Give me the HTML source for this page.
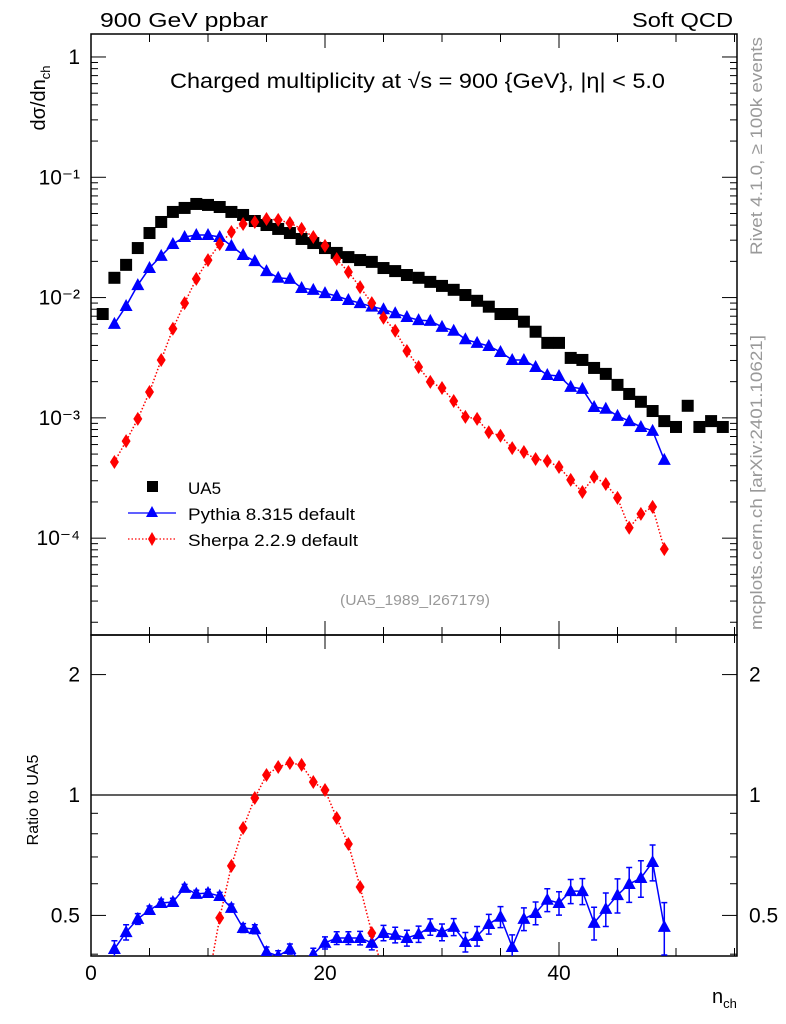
<!DOCTYPE html>
<html><head><meta charset="utf-8"><style>
body{margin:0;background:#fff;}
svg{display:block;font-family:"Liberation Sans",Arial,sans-serif;}
</style></head><body>
<svg id="chart" width="786" height="1024" viewBox="0 0 786 1024" xmlns="http://www.w3.org/2000/svg">
<defs>
<clipPath id="clipMain"><rect x="91" y="34" width="646" height="601"/></clipPath>
<clipPath id="clipRatio"><rect x="91" y="635" width="646" height="321"/></clipPath>
</defs>
<text x="100" y="27" font-size="20" textLength="168" lengthAdjust="spacingAndGlyphs">900 GeV ppbar</text>
<text x="632" y="27" font-size="20" textLength="101" lengthAdjust="spacingAndGlyphs">Soft QCD</text>
<text x="170" y="88" font-size="21" textLength="495" lengthAdjust="spacingAndGlyphs">Charged multiplicity at √s = 900 {GeV}, |η| &lt; 5.0</text>
<text transform="translate(762,255) rotate(-90)" font-size="17" fill="#999" textLength="218" lengthAdjust="spacingAndGlyphs">Rivet 4.1.0, ≥ 100k events</text>
<text transform="translate(762,630) rotate(-90)" font-size="17" fill="#999" textLength="295" lengthAdjust="spacingAndGlyphs">mcplots.cern.ch [arXiv:2401.10621]</text>
<text transform="translate(45,98) rotate(-90)" font-size="20" text-anchor="middle">dσ/dn<tspan font-size="13" dy="5">ch</tspan></text>
<text transform="translate(38,800) rotate(-90)" font-size="16" text-anchor="middle">Ratio to UA5</text>
<text x="712" y="1003" font-size="20">n<tspan font-size="13" dy="5">ch</tspan></text>
<text x="340" y="605" font-size="15" fill="#999" textLength="150" lengthAdjust="spacingAndGlyphs">(UA5_1989_I267179)</text>
<g id="axes"></g>
<g id="marks"></g>
<g>
<rect x="147" y="481" width="11" height="11" fill="#000"/>
<text x="188" y="494" font-size="17">UA5</text>
<line x1="128" y1="513" x2="176" y2="513" stroke="#00f" stroke-width="1.3"/>
<path d="M152,506 L158,517 L146,517 Z" fill="#00f"/>
<text x="188" y="520" font-size="17" textLength="167" lengthAdjust="spacingAndGlyphs">Pythia 8.315 default</text>
<line x1="128" y1="539" x2="176" y2="539" stroke="#f00" stroke-width="1.3" stroke-dasharray="1.5,2"/>
<path d="M152,532 L156,539 L152,546 L148,539 Z" fill="#f00"/>
<text x="188" y="546" font-size="17" textLength="170" lengthAdjust="spacingAndGlyphs">Sherpa 2.2.9 default</text>
</g>
</svg>
<script>
// ---- data ----
const ua5N = [1,2,3,4,5,6,7,8,9,10,11,12,13,14,15,16,17,18,19,20,21,22,23,24,25,26,27,28,29,30,31,32,33,34,35,36,37,38,39,40,41,42,43,44,45,46,47,48,49,50,51,52,53,54];
const ua5Vals = [7.3e-3,1.46e-2,1.87e-2,2.58e-2,3.44e-2,4.25e-2,5.15e-2,5.56e-2,6.0e-2,5.89e-2,5.66e-2,5.15e-2,4.86e-2,4.33e-2,4.01e-2,3.72e-2,3.44e-2,3.07e-2,2.84e-2,2.58e-2,2.35e-2,2.17e-2,2.05e-2,1.98e-2,1.76e-2,1.66e-2,1.54e-2,1.46e-2,1.35e-2,1.25e-2,1.16e-2,1.05e-2,9.4e-3,8.4e-3,7.3e-3,7.3e-3,6.3e-3,5.2e-3,4.2e-3,4.2e-3,3.15e-3,3.03e-3,2.6e-3,2.32e-3,1.88e-3,1.58e-3,1.36e-3,1.14e-3,9.4e-4,8.4e-4,1.26e-3,8.4e-4,9.4e-4,8.4e-4];
const mcN = [2,3,4,5,6,7,8,9,10,11,12,13,14,15,16,17,18,19,20,21,22,23,24,25,26,27,28,29,30,31,32,33,34,35,36,37,38,39,40,41,42,43,44,45,46,47,48,49];
const pythiaVals = [6.04e-3,8.5e-3,1.27e-2,1.76e-2,2.22e-2,2.79e-2,3.19e-2,3.31e-2,3.31e-2,3.19e-2,2.69e-2,2.26e-2,2.01e-2,1.66e-2,1.46e-2,1.43e-2,1.20e-2,1.16e-2,1.09e-2,1.03e-2,9.55e-3,9.0e-3,8.4e-3,8.0e-3,7.4e-3,6.9e-3,6.5e-3,6.4e-3,5.7e-3,5.3e-3,4.5e-3,4.2e-3,3.96e-3,3.53e-3,3.03e-3,3.03e-3,2.65e-3,2.27e-3,2.23e-3,1.81e-3,1.74e-3,1.23e-3,1.19e-3,1.04e-3,9.4e-4,8.4e-4,7.8e-4,4.47e-4];
const sherpaVals = [4.3e-4,6.4e-4,9.8e-4,1.64e-3,3.03e-3,5.5e-3,9.0e-3,1.43e-2,2.05e-2,2.79e-2,3.51e-2,4.09e-2,4.25e-2,4.5e-2,4.42e-2,4.17e-2,3.72e-2,3.19e-2,2.69e-2,2.09e-2,1.63e-2,1.22e-2,9.0e-3,6.8e-3,5.3e-3,3.6e-3,2.65e-3,1.99e-3,1.77e-3,1.38e-3,1.02e-3,9.8e-4,7.6e-4,7.1e-4,5.6e-4,5.2e-4,4.55e-4,4.38e-4,3.9e-4,3.05e-4,2.42e-4,3.23e-4,2.82e-4,2.16e-4,1.22e-4,1.59e-4,1.82e-4,8.1e-5];
const pythiaRatio = [0.412,0.454,0.49,0.516,0.537,0.54,0.586,0.566,0.569,0.559,0.522,0.465,0.462,0.405,0.396,0.412,0.38,0.40,0.427,0.439,0.439,0.439,0.427,0.452,0.447,0.439,0.449,0.468,0.454,0.468,0.429,0.444,0.476,0.496,0.417,0.49,0.507,0.547,0.537,0.575,0.575,0.479,0.519,0.562,0.599,0.62,0.68,0.468];
const pythiaRatioErr = [0.02,0.02,0.015,0.012,0.012,0.012,0.012,0.012,0.012,0.012,0.012,0.012,0.012,0.012,0.012,0.012,0.012,0.014,0.015,0.016,0.016,0.017,0.017,0.02,0.02,0.02,0.021,0.022,0.022,0.023,0.024,0.025,0.027,0.03,0.03,0.032,0.033,0.036,0.036,0.04,0.043,0.045,0.05,0.055,0.06,0.065,0.07,0.07];
const sherpaRatioN = [10,11,12,13,14,15,16,17,18,19,20,21,22,23,24,25];
const sherpaRatio = [0.34,0.493,0.665,0.827,0.983,1.122,1.175,1.202,1.189,1.078,1.029,0.876,0.754,0.589,0.452,0.36];
const xTickLabels = [0,20,40];
const mainTickLabels = ["1","10\u207B\u00B9","10\u207B\u00B2","10\u207B\u00B3","10\u207B\u2074"];
const mainTickExps = [0,-1,-2,-3,-4];
const ratioTickVals = [2,1,0.5];

// ---- scales ----
const X0=91, X1=737, XMAX=(737-91)/11.7;
const MT=34, MB=635, LOGMAX=0.191, LOGMIN=-4.805;
const RT=635, RB=956;
function sx(n){return X0+n/XMAX*(X1-X0);}
function sy(v){return MT+(LOGMAX-Math.log10(v))/(LOGMAX-LOGMIN)*(MB-MT);}
function ry(r){return 795-400*Math.log10(r);}

const NS="http://www.w3.org/2000/svg";
function mk(tag,attrs,parent){const e=document.createElementNS(NS,tag);for(const k in attrs)e.setAttribute(k,attrs[k]);parent.appendChild(e);return e;}
const axes=document.getElementById('axes');
const marks=document.getElementById('marks');

let f1=mk('rect',{x:X0,y:MT,width:X1-X0,height:MB-MT,fill:'none',stroke:'#000','stroke-width':1.5},axes);


let f2=mk('rect',{x:X0,y:RT,width:X1-X0,height:RB-RT,fill:'none',stroke:'#000','stroke-width':1.5},axes);



for(let n=0;n<=XMAX;n+=5){
  const x=sx(n), L=(n%20===0)?14:8;
  for(const [yb,dir] of [[MB,-1],[MT,1],[RB,-1],[RT,1]]){
    let t=mk('line',{x1:x,x2:x,y1:yb,y2:yb+dir*L,stroke:'#000','stroke-width':1},axes);
    
    
  }
}
xTickLabels.forEach(v=>{
  let t=mk('text',{x:sx(v),y:980,'font-size':21,'text-anchor':'middle'},axes);
  t.textContent=v;
  
  
});
for(let e=-5;e<=0;e++){
  for(let m=1;m<10;m++){
    const v=m*Math.pow(10,e); if(v<Math.pow(10,LOGMIN)||v>Math.pow(10,LOGMAX))continue;
    const y=sy(v), L=(m===1)?15:7;
    for(const [xb,dir] of [[X0,1],[X1,-1]]){
      let t=mk('line',{x1:xb,x2:xb+dir*L,y1:y,y2:y,stroke:'#000','stroke-width':1},axes);
      
      
    }
  }
}
mainTickExps.forEach((e,i)=>{
  let t=mk('text',{x:80,y:sy(Math.pow(10,e))+7,'font-size':21,'text-anchor':'end'},axes);
  t.textContent=mainTickLabels[i];
  
  
});
[0.4,0.5,0.6,0.7,0.8,0.9,1,2].forEach(r=>{
  const y=ry(r), L=(r===1||r===2||r===0.5)?15:7;
  for(const [xb,dir] of [[X0,1],[X1,-1]]){
    let t=mk('line',{x1:xb,x2:xb+dir*L,y1:y,y2:y,stroke:'#000','stroke-width':1},axes);
    
    
  }
});
ratioTickVals.forEach(r=>{
  for(const [x,anc] of [[80,'end'],[749,'start']]){
    let t=mk('text',{x:x,y:ry(r)+7,'font-size':21,'text-anchor':anc},axes);
    t.textContent=r;
    
    
  }
});
let one=mk('line',{x1:X0,x2:X1,y1:ry(1),y2:ry(1),stroke:'#000','stroke-width':1.3},axes);



const gm=mk('g',{'clip-path':'url(#clipMain)'},marks);
const gr=mk('g',{'clip-path':'url(#clipRatio)'},marks);
function tri(g,x,y,c){return mk('path',{d:`M${x},${y-7} L${x+6.5},${y+5} L${x-6.5},${y+5} Z`,fill:c},g);}
function dia(g,x,y,c){return mk('path',{d:`M${x},${y-7} L${x+4.5},${y} L${x},${y+7} L${x-4.5},${y} Z`,fill:c},g);}

let pl=mk('polyline',{points:mcN.map((n,i)=>sx(n)+','+sy(pythiaVals[i])).join(' '),fill:'none',stroke:'#00f','stroke-width':1.5},gm);


let sl=mk('polyline',{points:mcN.map((n,i)=>sx(n)+','+sy(sherpaVals[i])).join(' '),fill:'none',stroke:'#f00','stroke-width':1.5,'stroke-dasharray':'1.5,2'},gm);


ua5N.forEach((n,i)=>{
  let r=mk('rect',{x:sx(n)-6,y:sy(ua5Vals[i])-6,width:12,height:12,fill:'#000'},gm);
  
  
});
mcN.forEach((n,i)=>{
  let p=tri(gm,sx(n),sy(pythiaVals[i]),'#00f');
  
  
  let d=dia(gm,sx(n),sy(sherpaVals[i]),'#f00');
  
  
});

let prl=mk('polyline',{points:mcN.map((n,i)=>sx(n)+','+ry(pythiaRatio[i])).join(' '),fill:'none',stroke:'#00f','stroke-width':1.5},gr);


let srl=mk('polyline',{points:sherpaRatioN.map((n,i)=>sx(n)+','+ry(sherpaRatio[i])).join(' '),fill:'none',stroke:'#f00','stroke-width':1.5,'stroke-dasharray':'1.5,2'},gr);


mcN.forEach((n,i)=>{
  const x=sx(n), y1=ry(pythiaRatio[i]+pythiaRatioErr[i]), y2=ry(pythiaRatio[i]-pythiaRatioErr[i]);
  let e=mk('path',{d:`M${x},${y1} V${y2} M${x-3},${y1} H${x+3} M${x-3},${y2} H${x+3}`,stroke:'#00f','stroke-width':1.5,fill:'none'},gr);
  
  
  let p=tri(gr,x,ry(pythiaRatio[i]),'#00f');
  
  
});
sherpaRatioN.forEach((n,i)=>{
  let d=dia(gr,sx(n),ry(sherpaRatio[i]),'#f00');
  
  
});
</script>
</body></html>
